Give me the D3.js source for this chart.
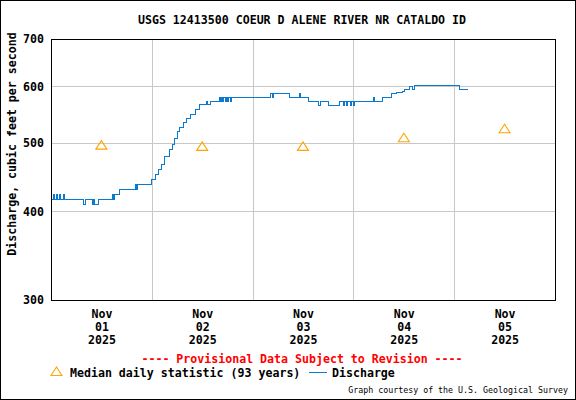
<!DOCTYPE html>
<html>
<head>
<meta charset="utf-8">
<title>USGS 12413500 Coeur d Alene River nr Cataldo</title>
<script src="https://cdnjs.cloudflare.com/ajax/libs/d3/7.8.5/d3.min.js"></script>
<style>
  body { margin: 0; background: #fff; }
  svg text { font-family: "DejaVu Sans Mono", "Liberation Mono", monospace; font-weight: bold; font-size: 11.6px; }
</style>
</head>
<body>
<script>

// discharge, 15-minute record (only the times where the value changes)
var dischargeTimes = [
  '2025-11-01 00:00', '2025-11-01 00:30', '2025-11-01 00:45', '2025-11-01 01:15', '2025-11-01 01:30',
  '2025-11-01 02:00', '2025-11-01 02:15', '2025-11-01 02:45', '2025-11-01 03:00', '2025-11-01 07:30',
  '2025-11-01 08:00', '2025-11-01 09:45', '2025-11-01 10:00', '2025-11-01 10:15', '2025-11-01 11:15',
  '2025-11-01 14:30', '2025-11-01 14:45', '2025-11-01 15:00', '2025-11-01 16:15', '2025-11-01 20:00',
  '2025-11-01 20:15', '2025-11-01 20:30', '2025-11-01 23:45',
  '2025-11-02 00:45', '2025-11-02 01:30', '2025-11-02 02:15', '2025-11-02 03:00', '2025-11-02 04:00',
  '2025-11-02 04:45', '2025-11-02 05:15', '2025-11-02 06:00', '2025-11-02 06:30', '2025-11-02 07:30',
  '2025-11-02 08:15', '2025-11-02 09:00', '2025-11-02 10:15', '2025-11-02 11:15', '2025-11-02 13:00',
  '2025-11-02 13:15', '2025-11-02 13:45', '2025-11-02 16:00', '2025-11-02 16:15', '2025-11-02 16:30',
  '2025-11-02 16:45', '2025-11-02 17:00', '2025-11-02 17:30', '2025-11-02 17:45', '2025-11-02 18:00',
  '2025-11-02 18:15', '2025-11-02 18:30', '2025-11-02 18:45',
  '2025-11-03 04:15', '2025-11-03 04:30', '2025-11-03 04:45', '2025-11-03 08:45', '2025-11-03 11:00',
  '2025-11-03 11:15', '2025-11-03 13:15', '2025-11-03 15:30', '2025-11-03 16:00', '2025-11-03 18:00',
  '2025-11-03 20:30', '2025-11-03 21:30', '2025-11-03 21:45', '2025-11-03 22:15', '2025-11-03 22:30',
  '2025-11-03 23:15', '2025-11-03 23:30',
  '2025-11-04 00:00', '2025-11-04 00:15', '2025-11-04 04:45', '2025-11-04 05:00', '2025-11-04 06:45',
  '2025-11-04 09:00', '2025-11-04 10:15', '2025-11-04 11:30', '2025-11-04 12:00', '2025-11-04 13:15',
  '2025-11-04 14:00', '2025-11-04 14:30',
  '2025-11-05 01:15', '2025-11-05 03:00'
];
var dischargeValues = [
  417, 423, 417, 423, 417,
  423, 417, 423, 417, 410,
  417, 410, 417, 410, 417,
  423, 417, 423, 430, 437,
  430, 437, 444,
  451, 459, 467, 479, 489,
  498, 508, 519, 526, 535,
  542, 549, 558, 566, 573,
  566, 573, 580, 573, 580,
  573, 580, 573, 580, 573,
  580, 573, 580,
  588, 580, 588, 580, 588,
  580, 572, 565, 572, 565,
  572, 565, 572, 565, 572,
  565, 572,
  565, 572, 580, 572, 580,
  588, 590, 592, 596, 601,
  596, 603,
  596, 596
];

// median daily statistic (93 years), plotted at noon
var medianTimes = ['2025-11-01 12:00', '2025-11-02 12:00', '2025-11-03 12:00', '2025-11-04 12:00', '2025-11-05 12:00'];
var medianValues = [496, 494, 494, 508, 523];

var yTickValues = [300, 400, 500, 600, 700];
var xTickTimes = medianTimes;
var xGridTimes = ['2025-11-02 00:00', '2025-11-03 00:00', '2025-11-04 00:00', '2025-11-05 00:00'];

var parse = d3.timeParse('%Y-%m-%d %H:%M');
var fmtMon = d3.timeFormat('%b'), fmtDay = d3.timeFormat('%d'), fmtYear = d3.timeFormat('%Y');

var plotLeft = 51, plotRight = 555, plotTop = 39, plotBottom = 300;

var svg = d3.select('body')
  .append('svg')
  .attr('width', 576)
  .attr('height', 400);

// outer frame
svg.append('rect')
  .attr('x', 0.5).attr('y', 0.5)
  .attr('width', 575).attr('height', 399)
  .attr('fill', '#fff').attr('stroke', '#000');

var x = d3.scaleTime()
  .domain([parse('2025-11-01 00:00'), parse('2025-11-06 00:00')])
  .range([plotLeft, plotRight]);

var y = d3.scaleLog()
  .domain([300, 700])
  .range([plotBottom, plotTop]);

// grid
svg.append('g').selectAll('line')
  .data(yTickValues.slice(1, -1))
  .enter().append('line')
  .attr('x1', plotLeft).attr('x2', plotRight)
  .attr('y1', function(d) { return Math.round(y(d)) + 0.5; })
  .attr('y2', function(d) { return Math.round(y(d)) + 0.5; })
  .attr('stroke', '#c8c8c8');

svg.append('g').selectAll('line')
  .data(xGridTimes)
  .enter().append('line')
  .attr('x1', function(d) { return Math.round(x(parse(d))) + 0.5; })
  .attr('x2', function(d) { return Math.round(x(parse(d))) + 0.5; })
  .attr('y1', plotTop).attr('y2', plotBottom)
  .attr('stroke', '#c8c8c8');

// discharge line
var pts = dischargeTimes.map(function(t, i) { return [parse(t), dischargeValues[i]]; });
var line = d3.line()
  .curve(d3.curveStepAfter)
  .x(function(d) { return Math.round(x(d[0])) + 0.5; })
  .y(function(d) { return Math.round(y(d[1])) + 0.5; });

svg.append('path')
  .datum(pts)
  .attr('d', line)
  .attr('fill', 'none')
  .attr('stroke', '#0a7ad0')
  .attr('stroke-width', 1)
  .attr('shape-rendering', 'crispEdges');

// median triangles
function tri(cx, cy) {
  return 'M' + (cx - 5.5) + ',' + (cy + 4) + 'L' + cx + ',' + (cy - 4.5) + 'L' + (cx + 5.5) + ',' + (cy + 4) + 'Z';
}
svg.append('g').selectAll('path')
  .data(medianTimes)
  .enter().append('path')
  .attr('d', function(d, i) { return tri(x(parse(d)), y(medianValues[i])); })
  .attr('fill', 'none')
  .attr('stroke', '#ffa500')
  .attr('stroke-width', 1.1);

// plot frame
svg.append('rect')
  .attr('x', plotLeft + 0.5).attr('y', plotTop + 0.5)
  .attr('width', plotRight - plotLeft).attr('height', plotBottom - plotTop)
  .attr('fill', 'none').attr('stroke', '#000');

// y axis labels
var yAxis = d3.axisLeft(y)
  .tickValues(yTickValues)
  .tickFormat(d3.format('d'))
  .tickSize(0)
  .tickPadding(7);
var gy = svg.append('g')
  .attr('transform', 'translate(' + plotLeft + ',0)')
  .call(yAxis);
gy.select('.domain').remove();
gy.selectAll('text').attr('fill', '#000').style('font-size', '11.6px').style('font-family', null);

// x axis labels, three lines each
var xAxis = d3.axisBottom(x)
  .tickValues(xTickTimes.map(parse))
  .tickSize(0)
  .tickFormat('');
var gx = svg.append('g')
  .attr('transform', 'translate(0,' + plotBottom + ')')
  .call(xAxis);
gx.select('.domain').remove();
gx.selectAll('.tick text').each(function(d) {
  var t = d3.select(this).attr('y', 0).attr('dy', null).attr('fill', '#000')
    .style('font-size', '11.6px').style('font-family', null);
  t.append('tspan').attr('x', 0).attr('y', 18).text(fmtMon(d));
  t.append('tspan').attr('x', 0).attr('y', 31).text(fmtDay(d));
  t.append('tspan').attr('x', 0).attr('y', 44).text(fmtYear(d));
});

// titles
svg.append('text')
  .attr('x', 302).attr('y', 24)
  .attr('text-anchor', 'middle')
  .text('USGS 12413500 COEUR D ALENE RIVER NR CATALDO ID');

svg.append('text')
  .attr('transform', 'translate(16,144) rotate(-90)')
  .attr('text-anchor', 'middle')
  .text('Discharge, cubic feet per second');

svg.append('text')
  .attr('x', 302).attr('y', 363)
  .attr('text-anchor', 'middle')
  .attr('fill', '#ff0000')
  .text('---- Provisional Data Subject to Revision ----');

// legend
svg.append('path')
  .attr('d', tri(56.5, 371.5))
  .attr('fill', 'none')
  .attr('stroke', '#ffa500')
  .attr('stroke-width', 1.1);
svg.append('text')
  .attr('x', 70).attr('y', 377)
  .text('Median daily statistic (93 years)');
svg.append('line')
  .attr('x1', 309).attr('x2', 327)
  .attr('y1', 372.5).attr('y2', 372.5)
  .attr('stroke', '#0a7ad0');
svg.append('text')
  .attr('x', 332).attr('y', 377)
  .text('Discharge');

svg.append('text')
  .attr('x', 568).attr('y', 393)
  .attr('text-anchor', 'end')
  .style('font-weight', 'normal')
  .style('font-size', '8.3px')
  .text('Graph courtesy of the U.S. Geological Survey');

</script>
</body>
</html>
